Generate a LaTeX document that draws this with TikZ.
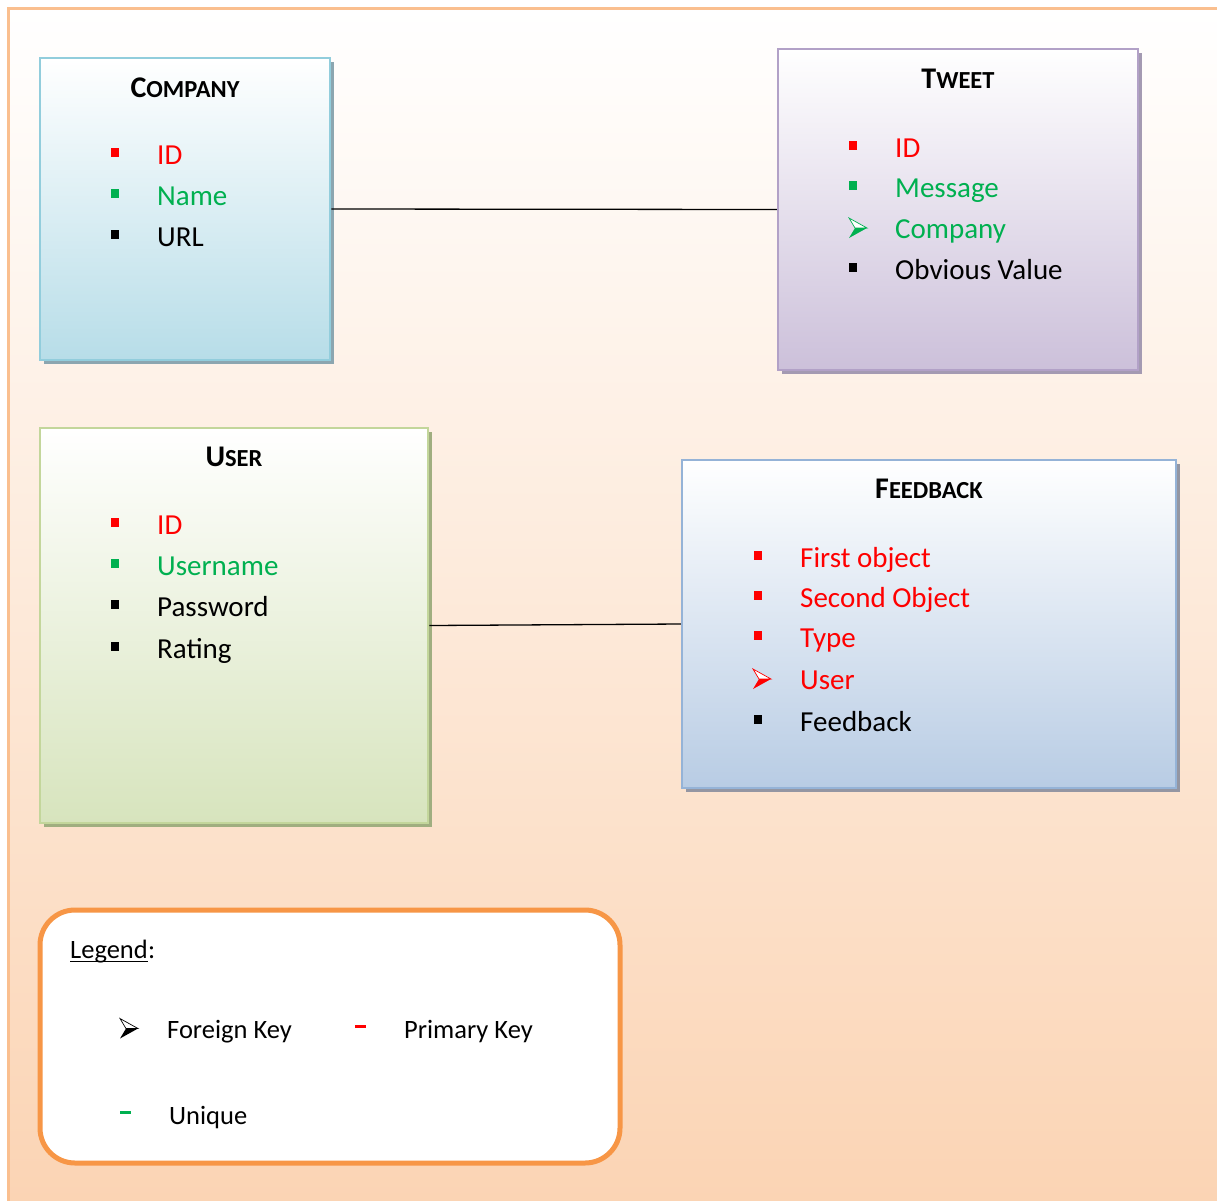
\documentclass[tikz,border=0pt]{standalone}
\usepackage{fontspec}
\setmainfont{Carlito}
\usepackage{tikz}
\usetikzlibrary{shadows}
\definecolor{myred}{RGB}{255,0,0}
\definecolor{mygreen}{RGB}{0,176,80}
\definecolor{framecol}{RGB}{250,191,143}
\definecolor{bgpeach}{RGB}{251,212,180}
\definecolor{legorange}{RGB}{247,150,70}
\definecolor{compborder}{RGB}{146,205,220}
\definecolor{compfill}{RGB}{183,221,232}
\definecolor{compshadow}{RGB}{140,166,176}
\definecolor{tweetborder}{RGB}{178,161,199}
\definecolor{tweetfill}{RGB}{204,192,218}
\definecolor{tweetshadow}{RGB}{164,154,178}
\definecolor{userborder}{RGB}{195,214,155}
\definecolor{userfill}{RGB}{215,228,189}
\definecolor{usershadow}{RGB}{160,174,128}
\definecolor{fbborder}{RGB}{149,179,215}
\definecolor{fbfill}{RGB}{184,204,228}
\definecolor{fbshadow}{RGB}{148,150,162}
% title in small capitals: first letter large, rest smaller
\newcommand{\enttitle}[2]{{\bfseries\fontsize{30}{36}\selectfont #1\fontsize{24.5}{30}\selectfont #2}}
\newcommand{\sqbullet}[2]{\fill[#1] (#2) +(-4,-4.5) rectangle +(4,4.5);}
\newcommand{\fkarrow}[2]{%
  \draw[#1, fill=white, line width=0.7pt, line join=miter] (#2) +(0,-10) -- +(18,0) -- +(6,0) -- cycle;
  \fill[#1] (#2) +(6,0) -- +(18,0) -- +(0,10) -- cycle;}

\begin{document}
\begin{tikzpicture}[x=1pt, y=-1pt,
    entity/.style n args={3}{draw=#1, line width=2.5pt, top color=white,
        bottom color=#2, inner sep=0pt,
        drop shadow={shadow xshift=3.5pt, shadow yshift=-3.5pt, fill=#3, opacity=1}},
    ttl/.style={anchor=base, inner sep=0pt},
    attr/.style={anchor=base west, inner sep=0pt, font=\fontsize{29}{34}\selectfont},
    legtxt/.style={anchor=base west, inner sep=0pt, font=\fontsize{26.5}{32}\selectfont},
    link/.style={line width=1.3pt, black}
]
\useasboundingbox (0,0) rectangle (1217,1200);
\fill[white] (0,0) rectangle (1217,1200);
\shade[top color=white, bottom color=bgpeach] (8,8) rectangle (1217,1200);
\draw[framecol, line width=3pt] (8,8) rectangle (1240,1220);

% entities
\node[entity={compborder}{compfill}{compshadow}, minimum width=290pt, minimum height=302pt]
    (company) at (185,209) {};
\node[entity={tweetborder}{tweetfill}{tweetshadow}, minimum width=360pt, minimum height=321pt]
    (tweet) at (958,209.5) {};
\node[entity={userborder}{userfill}{usershadow}, minimum width=388pt, minimum height=395pt]
    (user) at (234,625.5) {};
\node[entity={fbborder}{fbfill}{fbshadow}, minimum width=494pt, minimum height=328pt]
    (feedback) at (929,624) {};

\draw[link] (company.east) -- (tweet.west);
\draw[link] (user.east) -- (feedback.west);

% Company
\node[ttl] (company-t) at (185,97) {\enttitle{C}{OMPANY}};
\sqbullet{myred}{115,152.5}
\node[attr, text=myred] (company-id) at (157,164) {ID};
\sqbullet{mygreen}{115,193.5}
\node[attr, text=mygreen] (company-name) at (157,205) {Name};
\sqbullet{black}{115,234.5}
\node[attr] (company-url) at (157,246) {URL};

% Tweet
\node[ttl] (tweet-t) at (958,88) {\enttitle{T}{WEET}};
\sqbullet{myred}{853,145.5}
\node[attr, text=myred] (tweet-id) at (895,157) {ID};
\sqbullet{mygreen}{853,185.5}
\node[attr, text=mygreen] (tweet-msg) at (895,197) {Message};
\fkarrow{mygreen}{849,228}
\node[attr, text=mygreen] (tweet-comp) at (895,238) {Company};
\sqbullet{black}{853,267.5}
\node[attr] (tweet-val) at (895,279) {Obvious Value};

% User
\node[ttl] (user-t) at (234,466) {\enttitle{U}{SER}};
\sqbullet{myred}{115,522.5}
\node[attr, text=myred] (user-id) at (157,534) {ID};
\sqbullet{mygreen}{115,563.5}
\node[attr, text=mygreen] (user-name) at (157,575) {Username};
\sqbullet{black}{115,604.5}
\node[attr] (user-pw) at (157,616) {Password};
\sqbullet{black}{115,646.5}
\node[attr] (user-rate) at (157,658) {Rating};

% Feedback
\node[ttl] (feedback-t) at (929,498) {\enttitle{F}{EEDBACK}};
\sqbullet{myred}{758,555.5}
\node[attr, text=myred] (fb-first) at (800,567) {First object};
\sqbullet{myred}{758,595.5}
\node[attr, text=myred] (fb-second) at (800,607) {Second Object};
\sqbullet{myred}{758,635.5}
\node[attr, text=myred] (fb-type) at (800,647) {Type};
\fkarrow{myred}{753,679}
\node[attr, text=myred] (fb-user) at (800,689) {User};
\sqbullet{black}{758,719.5}
\node[attr] (fb-text) at (800,731) {Feedback};

% legend
\node[draw=legorange, line width=5pt, fill=white, rounded corners=35pt,
    minimum width=580pt, minimum height=253pt] (legend) at (330,1036.5) {};
\node[legtxt] (legend-t) at (70,958) {Legend};
\node[legtxt] (legend-colon) at (legend-t.base east) {:};
\draw[line width=1.8pt] ([yshift=-3.5pt]legend-t.base west) -- ([yshift=-3.5pt]legend-t.base east);
\fkarrow{black}{120,1028.5}
\node[legtxt] (leg-fk) at (167,1038) {Foreign Key};
\fill[myred] (355,1024.5) rectangle (366,1027.5);
\node[legtxt] (leg-pk) at (404,1038) {Primary Key};
\fill[mygreen] (120,1110.5) rectangle (131,1113.5);
\node[legtxt] (leg-uq) at (169,1124) {Unique};
\end{tikzpicture}
\end{document}
